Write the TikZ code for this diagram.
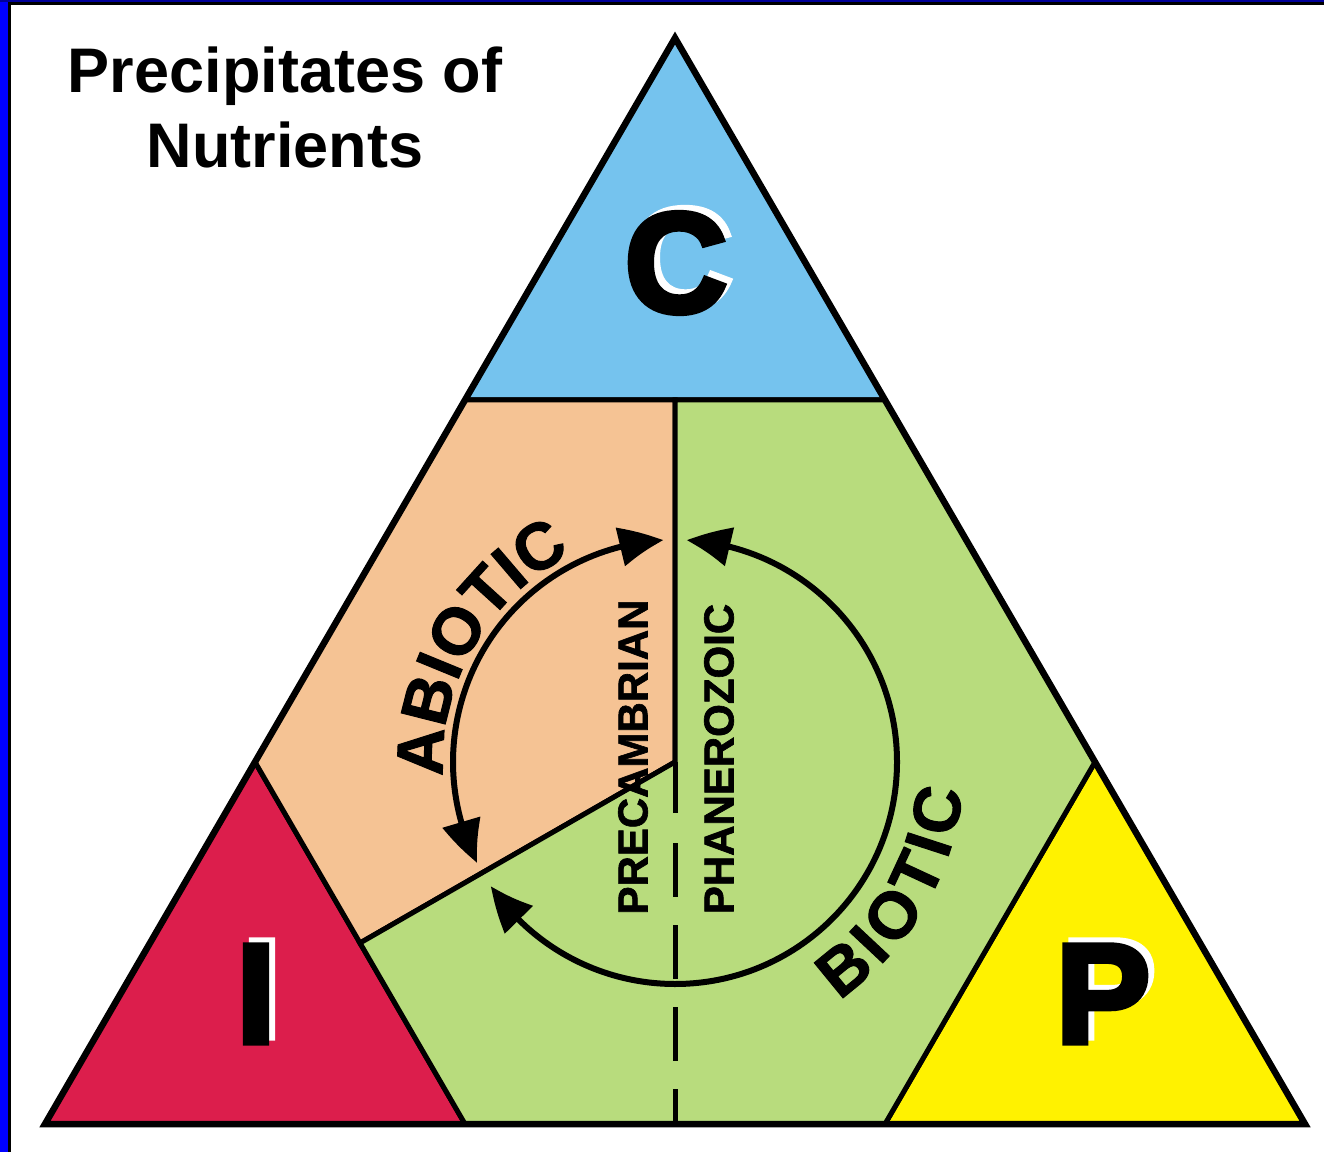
\documentclass[tikz,border=0pt]{standalone}
\usepackage{fontspec}
\setmainfont{Liberation Sans}
\newfontfamily\heavyfont{Liberation Sans}[BoldFeatures={FakeBold=4}]
\newfontfamily\labelfont{Liberation Sans}[BoldFeatures={FakeBold=1.5}]
\usetikzlibrary{arrows.meta,bending,decorations.text}
\definecolor{skyc}{RGB}{117,195,238}
\definecolor{redi}{RGB}{220,30,76}
\definecolor{yellowp}{RGB}{255,242,0}
\definecolor{peach}{RGB}{245,195,148}
\definecolor{leaf}{RGB}{184,220,125}
\newcommand\arcfont{\labelfont\bfseries\fontsize{66}{66}\selectfont}
\begin{document}
\begin{tikzpicture}[x=1pt,y=1pt,
	region/.style={draw=black,line width=5pt},
	cyclearrow/.style={line width=6pt,{Triangle[length=44pt,width=38pt,bend]}-{Triangle[length=44pt,width=38pt,bend]}},
	bigletter/.style={font=\heavyfont\bfseries\fontsize{142}{142}\selectfont,inner sep=0pt},
	arcletter/.style={font=\arcfont,inner sep=0pt,anchor=base},
	eralabel/.style={font=\labelfont\bfseries\fontsize{42}{42}\selectfont,rotate=90,inner sep=0pt}]
	\useasboundingbox (0,0) rectangle (1324,1152);
	% frame
	\fill [blue] (0,0) rectangle (7.5,1152);
	\fill [blue!60!black] (0,1149.5) rectangle (1324,1152);
	\draw [line width=3pt] (9,0) -- (9,1148.5) -- (1324,1148.5);
	% corners of the triangle
	\coordinate (top) at (675,1114);
	\coordinate (left) at (45,28);
	\coordinate (right) at (1305,28);
	\coordinate (mid) at (675,390);
	\coordinate (cl) at (465,752);
	\coordinate (cm) at (675,752);
	\coordinate (cr) at (885,752);
	\coordinate (il) at (255,390);
	\coordinate (ir) at (465,28);
	\coordinate (im) at (360,209);
	\coordinate (pr) at (1095,390);
	\coordinate (pl) at (885,28);
	\coordinate (split) at (675,339);
	\coordinate (dashtop) at (675,309);
	\coordinate (base) at (675,28);
	\filldraw [region,fill=skyc] (top) -- (cl) -- (cr) -- cycle;
	\filldraw [region,fill=redi] (left) -- (il) -- (ir) -- cycle;
	\filldraw [region,fill=yellowp] (right) -- (pr) -- (pl) -- cycle;
	\filldraw [region,fill=peach] (cl) -- (cm) -- (mid) -- (im) -- (il) -- cycle;
	\filldraw [region,fill=leaf] (cm) -- (cr) -- (pr) -- (pl) -- (ir) -- (im) -- (mid) -- cycle;
	\draw [line width=6.5pt] (top) -- (left) -- (right) -- cycle;
	\draw [line width=5pt] (mid) -- (split);
	\draw [line width=5pt,dash pattern=on 54pt off 28pt] (dashtop) -- (base);
	% cycles
	\draw [cyclearrow] (mid) ++(93:222) arc[start angle=93,end angle=207,radius=222];
	\draw [cyclearrow] (mid) ++(87:222) arc[start angle=87,end angle=-146,radius=222];
	\path [decorate,decoration={text along path,text align=center,text={|\arcfont|ABIOTIC}}]
		(mid) ++(190:232) arc[start angle=190,end angle=110,radius=232];
	\foreach \ch/\a [count=\i] in {B/-50.7,I/-43.1,O/-35.1,T/-24.9,I/-18.0,C/-10.4}
		\path (mid) ++(\a:289) node [arcletter,rotate=\a+90] (biotic\i) {\ch};
	\node [eralabel] (pre) at (633,395) {PRECAMBRIAN};
	\node [eralabel] (pha) at (719,393) {PHANEROZOIC};
	% corner letters with white shadow
	\foreach \l/\x/\y in {C/676/889,I/256/158,P/1103/158} {
		\node [bigletter,white] at (\x+6,\y+5) {\l};
		\node [bigletter] (\l) at (\x,\y) {\l};
	}
	\node [font=\bfseries\fontsize{63}{63}\selectfont,align=center,execute at begin node=\setlength{\baselineskip}{75pt}] (title) at (285,1045) {Precipitates of\\Nutrients};
\end{tikzpicture}
\end{document}
